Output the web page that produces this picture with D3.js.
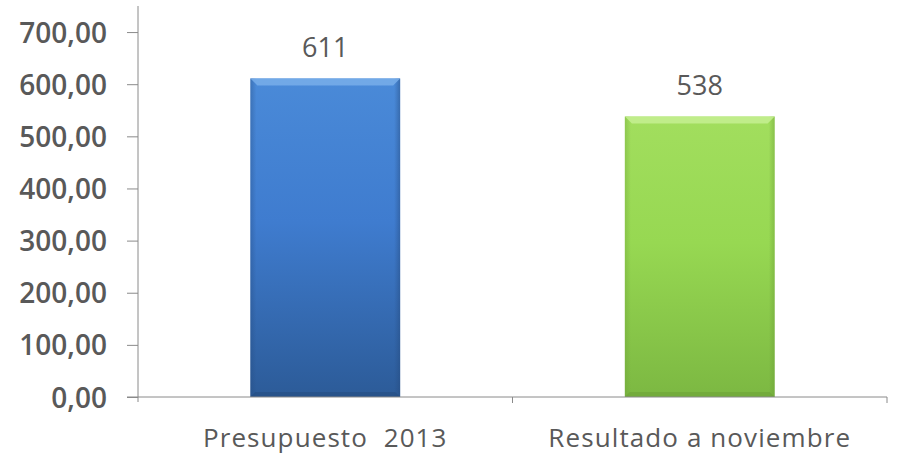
<!DOCTYPE html>
<html>
<head>
<meta charset="utf-8">
<script src="https://cdn.jsdelivr.net/npm/d3@7"></script>
<style>
  html, body { margin: 0; padding: 0; background: #fff; }
  svg { display: block; }
  text { font-family: "Open Sans", "Noto Sans", sans-serif; fill: #595959; }
</style>
</head>
<body>
<svg id="chart" width="897" height="455"></svg>
<script>
// Data
const categories = ["Presupuesto  2013", "Resultado a noviembre"];
const values = [611, 538];
const valueLabels = ["611", "538"];
const yTicks = [0, 100, 200, 300, 400, 500, 600, 700];
const yTickLabels = ["0,00", "100,00", "200,00", "300,00", "400,00", "500,00", "600,00", "700,00"];
const barColors = [
  { top: "#4a8ad8", mid: "#3f7ccf", bottom: "#2c5b98", edge: "#78aeea", dark: "#24497c" },
  { top: "#a2de5e", mid: "#97d852", bottom: "#7cb842", edge: "#c6f092", dark: "#6a9d36" }
];

const svg = d3.select("#chart");
const axisLeftX = 138, axisRightX = 887;

const x = d3.scaleBand()
  .domain(categories)
  .range([axisLeftX, axisRightX])
  .paddingInner(0.6)
  .paddingOuter(0.3);

const y = d3.scaleLinear()
  .domain([0, 750])
  .range([397, 6]);

const defs = svg.append("defs");
barColors.forEach((c, i) => {
  const g = defs.append("linearGradient")
    .attr("id", "grad" + i).attr("x1", 0).attr("y1", 0).attr("x2", 0).attr("y2", 1);
  g.append("stop").attr("offset", "0%").attr("stop-color", c.top);
  g.append("stop").attr("offset", "45%").attr("stop-color", c.mid);
  g.append("stop").attr("offset", "100%").attr("stop-color", c.bottom);
  const h = defs.append("linearGradient")
    .attr("id", "side" + i).attr("x1", 0).attr("y1", 0).attr("x2", 1).attr("y2", 0);
  h.append("stop").attr("offset", "0%").attr("stop-color", c.dark).attr("stop-opacity", 0.35);
  h.append("stop").attr("offset", "4%").attr("stop-color", c.dark).attr("stop-opacity", 0);
  h.append("stop").attr("offset", "96%").attr("stop-color", c.dark).attr("stop-opacity", 0);
  h.append("stop").attr("offset", "100%").attr("stop-color", c.dark).attr("stop-opacity", 0.45);
});

// Bars
const bars = svg.append("g").selectAll("g.bar")
  .data(values)
  .join("g").attr("class", "bar");

bars.append("rect")
  .attr("x", (d, i) => x(categories[i]))
  .attr("y", d => y(d))
  .attr("width", x.bandwidth())
  .attr("height", d => y(0) - y(d))
  .attr("fill", (d, i) => `url(#grad${i})`);

bars.append("rect")
  .attr("x", (d, i) => x(categories[i]))
  .attr("y", d => y(d))
  .attr("width", x.bandwidth())
  .attr("height", d => y(0) - y(d))
  .attr("fill", (d, i) => `url(#side${i})`);

// Bevel highlight along the top edge
bars.append("path")
  .attr("d", (d, i) => {
    const x0 = x(categories[i]), x1 = x0 + x.bandwidth(), t = y(d), b = 7;
    return `M${x0},${t}L${x1},${t}L${x1 - b},${t + b}L${x0 + b},${t + b}Z`;
  })
  .attr("fill", (d, i) => barColors[i].edge)
  .attr("opacity", 0.85);

// Darker strip along the bottom edge
bars.append("path")
  .attr("d", (d, i) => {
    const x0 = x(categories[i]), x1 = x0 + x.bandwidth(), bt = y(0), b = 5;
    return `M${x0},${bt}L${x1},${bt}L${x1 - b},${bt - b}L${x0 + b},${bt - b}Z`;
  })
  .attr("fill", (d, i) => barColors[i].dark)
  .attr("opacity", 0.5);

// Value labels
svg.append("g").selectAll("text")
  .data(values)
  .join("text")
  .attr("x", (d, i) => x(categories[i]) + x.bandwidth() / 2)
  .attr("y", d => y(d) - 21.5)
  .attr("text-anchor", "middle")
  .attr("font-size", 27)
  .text((d, i) => valueLabels[i]);

// Y axis
const yAxis = d3.axisLeft(y)
  .tickValues(yTicks)
  .tickFormat((d, i) => yTickLabels[i])
  .tickSize(11)
  .tickPadding(20);
const gy = svg.append("g").attr("transform", `translate(${axisLeftX},0)`).call(yAxis);
gy.select(".domain").attr("stroke", "#8a8a8a").attr("d", `M0,${y(750)}V${y(0) + 5}`);
gy.selectAll(".tick line").attr("stroke", "#8a8a8a");
gy.selectAll(".tick text")
  .attr("font-size", 28).attr("font-weight", 600)
  .attr("dy", "0.36em")
  .attr("fill", "#595959")
  .style("font-family", "'Open Sans', sans-serif");

// X axis
const gx = svg.append("g").attr("transform", `translate(0,${y(0)})`);
gx.append("line")
  .attr("x1", axisLeftX - 11).attr("x2", axisRightX)
  .attr("stroke", "#8a8a8a");
const boundaries = categories.map(c => x(c) + x.bandwidth() + x.step() * x.paddingInner() / 2);
gx.selectAll("line.tk")
  .data(boundaries)
  .join("line").attr("class", "tk")
  .attr("x1", d => d).attr("x2", d => d)
  .attr("y1", 0).attr("y2", 6)
  .attr("stroke", "#8a8a8a");
gx.selectAll("text")
  .data(categories)
  .join("text")
  .attr("x", d => x(d) + x.bandwidth() / 2)
  .attr("y", 50)
  .attr("text-anchor", "middle")
  .attr("font-size", 26)
  .attr("letter-spacing", 1.1)
  .attr("xml:space", "preserve")
  .style("white-space", "pre")
  .text(d => d);
</script>
</body>
</html>
